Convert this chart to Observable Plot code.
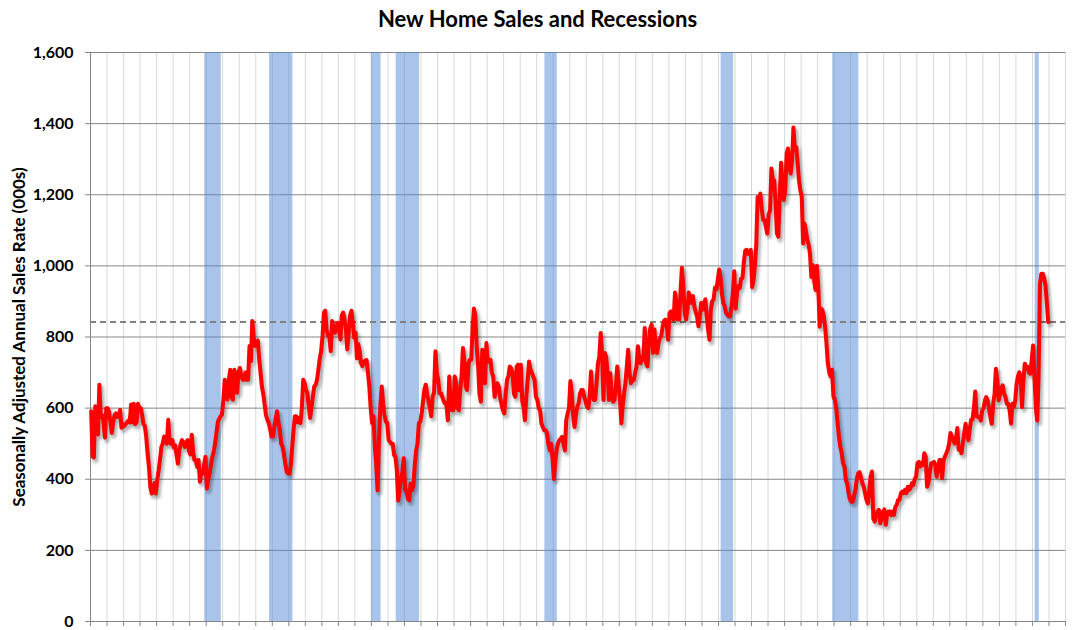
<!DOCTYPE html>
<html>
<head>
<meta charset="utf-8">
<script src="https://cdn.jsdelivr.net/npm/d3@7"></script>
<script src="https://cdn.jsdelivr.net/npm/@observablehq/plot@0.6"></script>
<style>
  body { margin: 0; background: #fff; font-family: Lato, "Open Sans", sans-serif; }
  #title { width: 1075px; height: 36px; line-height: 37px; text-align: center; font-weight: bold; font-size: 22px; color: #000; }
</style>
</head>
<body>
<div id="title">New Home Sales and Recessions</div>
<div id="chart"></div>
<script>
// Monthly new home sales, SAAR (000s), starting Jan 1963
const firstYear = 1963;
const sales1960s = [
  591, 464, 461, 605, 586, 526, 666, 575, 580, 560, 517, 600,
  600, 590, 560, 530, 560, 580, 585, 575, 580, 595, 545, 555,
  550, 555, 560, 565, 560, 610, 560, 612, 555, 560, 612, 600,
  600, 580, 555, 550, 520, 473, 435, 378, 360, 370, 390, 360,
  400, 425, 454, 490, 500, 520, 510, 500, 567, 505, 500, 510,
  490, 495, 470, 444, 480, 500, 510, 500, 491, 505, 510, 480,
  470, 525, 480, 454, 454, 435, 454, 393, 420, 416, 440, 463
];
const sales1970s = [
  374, 400, 416, 440, 463, 477, 500, 530, 562, 570, 577, 582,
  624, 680, 650, 624, 680, 708, 630, 624, 708, 680, 643, 700,
  713, 690, 680, 680, 700, 680, 680, 775, 732, 845, 800, 775,
  775, 790, 740, 700, 661, 640, 610, 580, 567, 558, 540, 520,
  520, 548, 570, 591, 560, 539, 500, 492, 470, 444, 421, 416,
  416, 440, 490, 539, 577, 577, 560, 572, 558, 600, 680, 670,
  650, 643, 605, 572, 600, 633, 661, 665, 680, 708, 740, 760,
  803, 869, 874, 820, 803, 800, 760, 845, 830, 812, 825, 840,
  820, 793, 860, 869, 850, 822, 765, 812, 860, 874, 840, 798,
  812, 740, 780, 760, 727, 718, 730, 733, 735, 700, 661, 600
];
const sales1980s = [
  558, 577, 492, 444, 369, 510, 605, 661, 614, 580, 562, 558,
  510, 505, 500, 500, 468, 463, 426, 340, 369, 400, 420, 459,
  369, 369, 345, 341, 388, 369, 380, 440, 482, 500, 558, 562,
  586, 620, 652, 666, 640, 620, 600, 577, 633, 643, 760, 700,
  680, 642, 642, 632, 620, 613, 613, 566, 689, 620, 594, 594,
  689, 670, 600, 594, 650, 690, 769, 736, 660, 651, 726, 736,
  736, 830, 880, 860, 774, 720, 640, 618, 764, 700, 670, 783,
  730, 736, 736, 700, 689, 632, 651, 670, 660, 632, 610, 594,
  585, 640, 679, 690, 717, 712, 698, 640, 632, 717, 722, 650,
  722, 620, 604, 566, 632, 679, 731, 708, 700, 689, 679, 632
];
const sales1990s = [
  623, 600, 594, 557, 547, 538, 538, 530, 500, 481, 500, 462,
  401, 450, 481, 500, 510, 514, 519, 500, 481, 566, 585, 600,
  676, 642, 580, 547, 580, 604, 613, 642, 651, 651, 632, 620,
  604, 600, 632, 703, 642, 623, 623, 670, 726, 745, 811, 755,
  623, 755, 745, 700, 623, 698, 642, 618, 623, 660, 717, 670,
  623, 557, 604, 640, 670, 717, 764, 698, 670, 679, 679, 698,
  717, 774, 740, 726, 745, 736, 825, 726, 717, 790, 825, 835,
  755, 821, 770, 755, 783, 797, 802, 830, 845, 849, 830, 792,
  868, 872, 855, 849, 925, 896, 849, 849, 930, 995, 943, 868,
  849, 880, 925, 910, 896, 915, 887, 870, 858, 830, 858, 896
];
const sales2000s = [
  877, 890, 906, 858, 821, 792, 877, 900, 906, 939, 934, 960,
  990, 967, 925, 896, 887, 868, 863, 858, 858, 887, 925, 985,
  880, 926, 943, 938, 964, 966, 1010, 1043, 1045, 1034, 1034, 1045,
  940, 960, 1000, 1060, 1194, 1194, 1203, 1160, 1129, 1129, 1110, 1091,
  1145, 1157, 1274, 1241, 1241, 1180, 1091, 1082, 1194, 1290, 1230, 1185,
  1213, 1316, 1330, 1280, 1260, 1297, 1389, 1325, 1334, 1290, 1241, 1213,
  1194, 1063, 1119, 1100, 1075, 1060, 1035, 969, 1002, 960, 932, 1000,
  941, 829, 880, 876, 860, 829, 782, 726, 700, 689, 708, 633,
  624, 600, 560, 520, 492, 474, 445, 436, 398, 389, 361, 343,
  337, 337, 353, 370, 400, 417, 420, 405, 389, 379, 360, 342
];
const sales2010s = [
  332, 370, 407, 422, 290, 281, 300, 309, 314, 276, 290, 309,
  315, 272, 300, 309, 309, 299, 309, 300, 323, 328, 342, 342,
  361, 365, 361, 370, 361, 379, 370, 375, 389, 384, 400, 407,
  445, 449, 436, 445, 440, 473, 464, 379, 389, 420, 445, 445,
  449, 440, 407, 426, 454, 454, 403, 454, 464, 473, 483, 500,
  530, 520, 511, 501, 511, 544, 483, 490, 473, 501, 530, 556,
  525, 510, 540, 567, 567, 600, 647, 577, 575, 575, 565, 593,
  600, 622, 631, 622, 600, 575, 556, 610, 640, 711, 678, 622,
  640, 659, 664, 640, 631, 612, 612, 593, 556, 612, 603, 620,
  668, 690, 701, 690, 603, 678, 725, 716, 716, 700, 697, 734
];
const sales2020s = [
  776, 690, 600, 565, 690, 950, 978, 978, 965, 945, 894, 842
];

// Recession periods (first and last month shaded)
const recStart = ["1969-12", "1973-11", "1980-01", "1981-07", "1990-07", "2001-03", "2007-12", "2020-03"];
const recEnd   = ["1970-11", "1975-03", "1980-07", "1982-11", "1991-03", "2001-11", "2009-06", "2020-05"];

const yTicks = [0, 200, 400, 600, 800, 1000, 1200, 1400, 1600];
const axisYears = d3.range(1963, 2023);
const yLabel = "Seasonally Adjusted Annual Sales Rate (000s)";

// ---- build ----
const sales = [].concat(sales1960s, sales1970s, sales1980s, sales1990s, sales2000s, sales2010s, sales2020s);
const rows = sales.map((v, i) => ({date: new Date(Date.UTC(firstYear, i, 16)), value: v}));
const monthStart = s => { const [y, m] = s.split("-").map(Number); return new Date(Date.UTC(y, m - 1, 1)); };
const monthAfter = s => { const [y, m] = s.split("-").map(Number); return new Date(Date.UTC(y, m, 1)); };
const recessions = recStart.map((s, i) => ({start: monthStart(s), end: monthAfter(recEnd[i])}));
const yearDates = axisYears.map(y => new Date(Date.UTC(y, 0, 1)));
const lastValue = sales[sales.length - 1];

const chart = Plot.plot({
  width: 1075,
  height: 594,
  marginLeft: 90,
  marginRight: 10,
  marginTop: 16,
  marginBottom: 9,
  x: {type: "utc", domain: [yearDates[0], yearDates[yearDates.length - 1]], label: null},
  y: {domain: [0, 1600], label: null},
  style: {fontFamily: "Lato, 'Open Sans', sans-serif", fontWeight: "bold", fontSize: "16px", color: "#000", background: "#fff"},
  marks: [
    Plot.ruleX(yearDates.slice(1), {stroke: "#d9d9d9", strokeWidth: 1}),
    Plot.ruleY(yTicks, {stroke: "#868686", strokeWidth: 1}),
    Plot.rect(recessions, {x1: "start", x2: "end", fill: "#5389d5", fillOpacity: 0.5}),
    Plot.ruleX([yearDates[0]], {stroke: "#868686", strokeWidth: 1}),
    Plot.axisX({ticks: yearDates, tickFormat: () => "", tickSize: 5, stroke: "#868686", label: null}),
    Plot.axisY({ticks: yTicks, tickFormat: d3.format(","), tickSize: 5, tickPadding: 12, stroke: "#868686", fill: "#000", fontSize: 16, label: null}),
    Plot.ruleY([lastValue], {stroke: "#808080", strokeWidth: 2, strokeDasharray: "6,4"}),
    Plot.line(rows, {x: "date", y: "value", stroke: "#000", strokeOpacity: 0.3, strokeWidth: 5, dx: 2, dy: 3, strokeLinejoin: "round"}),
    Plot.line(rows, {x: "date", y: "value", stroke: "#ff0000", strokeWidth: 4, strokeLinejoin: "round"}),
    Plot.text([yLabel], {frameAnchor: "left", dx: -71, rotate: -90, textAnchor: "middle", fontSize: 17, fill: "#000"})
  ]
});

// soft shadow under the red line
const svgSel = d3.select(chart.tagName.toLowerCase() === "svg" ? chart : chart.querySelector("svg"));
svgSel.insert("defs", ":first-child").append("filter").attr("id", "lineShadow")
  .attr("x", "-5%").attr("y", "-5%").attr("width", "110%").attr("height", "110%")
  .append("feGaussianBlur").attr("stdDeviation", 1.6);
const lineGroups = svgSel.selectAll('g[aria-label="line"]').nodes();
if (lineGroups.length) d3.select(lineGroups[0]).attr("filter", "url(#lineShadow)");

document.getElementById("chart").appendChild(chart);
</script>
</body>
</html>
